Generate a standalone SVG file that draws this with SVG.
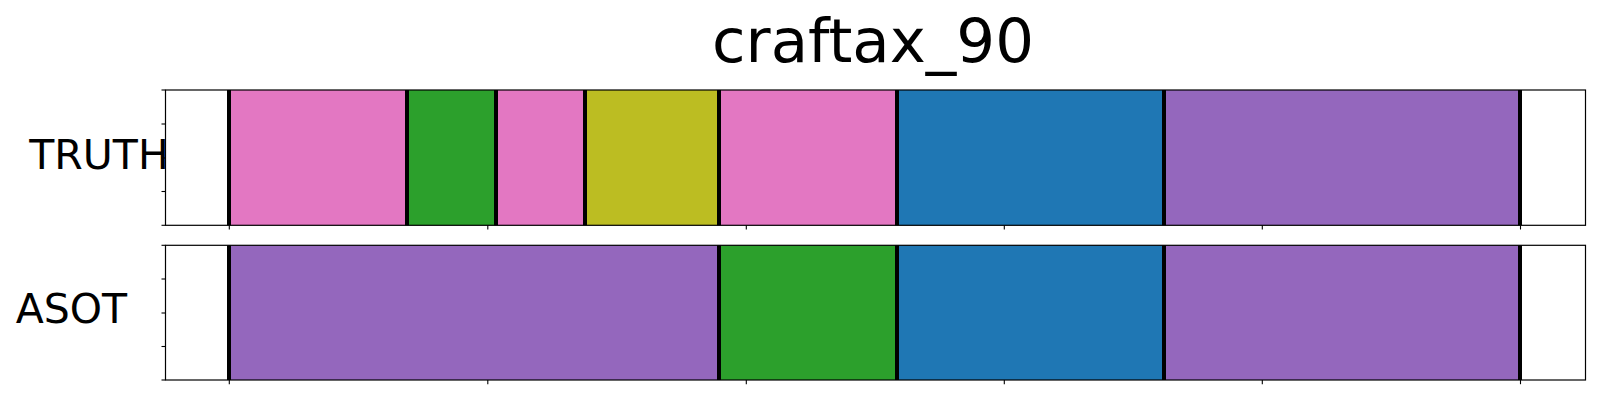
<svg xmlns="http://www.w3.org/2000/svg" width="1600" height="400" viewBox="0 0 1600 400">
<style>
.frame{fill:none;stroke:#000;stroke-width:1.2}
.tick{stroke:#000;stroke-width:1.1}
.bound{stroke:#000;stroke-width:4}
.lbl{font-family:"DejaVu Sans",sans-serif;font-size:41px;fill:#000}
.title{font-family:"DejaVu Sans",sans-serif;font-size:61px;fill:#000}
.pink{fill:#e377c2}.green{fill:#2ca02c}.olive{fill:#bcbd22}.blue{fill:#1f77b4}.purple{fill:#9467bd}
</style>
<rect width="1600" height="400" fill="#fff"/>
<text class="title" x="873" y="62" text-anchor="middle">craftax_90</text>
<g id="truth">
<rect class="pink" x="229" y="90" width="178" height="135.3"/>
<rect class="green" x="407" y="90" width="89" height="135.3"/>
<rect class="pink" x="496" y="90" width="89" height="135.3"/>
<rect class="olive" x="585" y="90" width="134" height="135.3"/>
<rect class="pink" x="719" y="90" width="178" height="135.3"/>
<rect class="blue" x="897" y="90" width="267" height="135.3"/>
<rect class="purple" x="1164" y="90" width="356" height="135.3"/>
<g class="bound">
<line x1="229" y1="90" x2="229" y2="225.3"/><line x1="407" y1="90" x2="407" y2="225.3"/>
<line x1="496" y1="90" x2="496" y2="225.3"/><line x1="585" y1="90" x2="585" y2="225.3"/>
<line x1="719" y1="90" x2="719" y2="225.3"/><line x1="897" y1="90" x2="897" y2="225.3"/>
<line x1="1164" y1="90" x2="1164" y2="225.3"/><line x1="1520" y1="90" x2="1520" y2="225.3"/>
</g>
<rect class="frame" x="165.5" y="90" width="1420" height="135.3"/>
<g class="tick">
<line x1="161.5" y1="90" x2="165.5" y2="90"/><line x1="161.5" y1="124" x2="165.5" y2="124"/>
<line x1="161.5" y1="158" x2="165.5" y2="158"/><line x1="161.5" y1="191.5" x2="165.5" y2="191.5"/>
<line x1="161.5" y1="225.3" x2="165.5" y2="225.3"/>
<line x1="229.3" y1="225.3" x2="229.3" y2="229.5"/><line x1="487.8" y1="225.3" x2="487.8" y2="229.5"/>
<line x1="746.3" y1="225.3" x2="746.3" y2="229.5"/><line x1="1004.3" y1="225.3" x2="1004.3" y2="229.5"/>
<line x1="1262.3" y1="225.3" x2="1262.3" y2="229.5"/><line x1="1520.5" y1="225.3" x2="1520.5" y2="229.5"/>
</g>
<text class="lbl" x="29.3" y="169.3">TRUTH</text>
</g>
<g id="asot">
<rect class="purple" x="229" y="245.3" width="490" height="134.7"/>
<rect class="green" x="719" y="245.3" width="178" height="134.7"/>
<rect class="blue" x="897" y="245.3" width="267" height="134.7"/>
<rect class="purple" x="1164" y="245.3" width="356" height="134.7"/>
<g class="bound">
<line x1="229" y1="245.3" x2="229" y2="380"/><line x1="719" y1="245.3" x2="719" y2="380"/>
<line x1="897" y1="245.3" x2="897" y2="380"/><line x1="1164" y1="245.3" x2="1164" y2="380"/>
<line x1="1520" y1="245.3" x2="1520" y2="380"/>
</g>
<rect class="frame" x="165.5" y="245.3" width="1420" height="134.7"/>
<g class="tick">
<line x1="161.5" y1="245.3" x2="165.5" y2="245.3"/><line x1="161.5" y1="279" x2="165.5" y2="279"/>
<line x1="161.5" y1="313" x2="165.5" y2="313"/><line x1="161.5" y1="346.5" x2="165.5" y2="346.5"/>
<line x1="161.5" y1="380" x2="165.5" y2="380"/>
<line x1="229.3" y1="380" x2="229.3" y2="384.2"/><line x1="487.8" y1="380" x2="487.8" y2="384.2"/>
<line x1="746.3" y1="380" x2="746.3" y2="384.2"/><line x1="1004.3" y1="380" x2="1004.3" y2="384.2"/>
<line x1="1262.3" y1="380" x2="1262.3" y2="384.2"/><line x1="1520.5" y1="380" x2="1520.5" y2="384.2"/>
</g>
<text class="lbl" x="15.7" y="322.5">ASOT</text>
</g>
<g id="connectors"/>
</svg>
